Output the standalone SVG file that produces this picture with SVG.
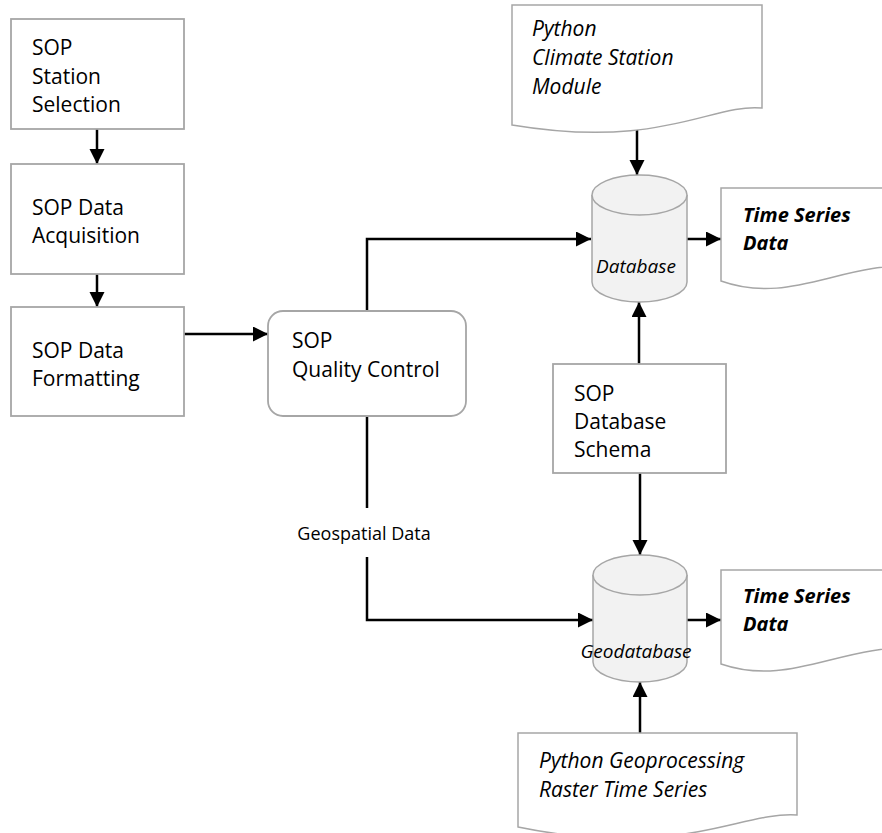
<svg xmlns="http://www.w3.org/2000/svg" width="882" height="833" viewBox="0 0 882 833">
<defs>
<style>
.box{fill:#fff;stroke:#a6a6a6;stroke-width:1.8}
.cyl{fill:#f2f2f2;stroke:#a6a6a6;stroke-width:1.5}
.doc{fill:#fff;stroke:#a6a6a6;stroke-width:1.5}
.t{font-family:"Open Sans",sans-serif;font-size:21px;fill:#000}
.i{font-style:italic}
.bi{font-style:italic;font-weight:bold;font-size:20px}
.lbl{font-family:"Open Sans",sans-serif;font-size:18px;fill:#000}
.c{fill:none;stroke:#000;stroke-width:2.5}
</style>
<marker id="ah" markerUnits="userSpaceOnUse" markerWidth="16" markerHeight="16" refX="15" refY="7.5" orient="auto">
<path d="M0,0 L15,7.5 L0,15 Z" fill="#000"/>
</marker>
</defs>
<rect width="882" height="833" fill="#fff"/>

<g id="connectors">
<line class="c" x1="97" y1="129" x2="97" y2="164" marker-end="url(#ah)"/>
<line class="c" x1="97" y1="274" x2="97" y2="307" marker-end="url(#ah)"/>
<line class="c" x1="184" y1="334" x2="268" y2="334" marker-end="url(#ah)"/>
<polyline class="c" points="367,311 367,239 591,239" marker-end="url(#ah)"/>
<line class="c" x1="367" y1="416" x2="367" y2="508"/>
<polyline class="c" points="367,557 367,620 593,620" marker-end="url(#ah)"/>
<line class="c" x1="637" y1="124" x2="637" y2="175" marker-end="url(#ah)"/>
<line class="c" x1="687" y1="239" x2="721" y2="239" marker-end="url(#ah)"/>
<line class="c" x1="687" y1="620" x2="721" y2="620" marker-end="url(#ah)"/>
<line class="c" x1="639" y1="364" x2="639" y2="302" marker-end="url(#ah)"/>
<line class="c" x1="640" y1="473" x2="640" y2="555" marker-end="url(#ah)"/>
<line class="c" x1="640" y1="733" x2="640" y2="682" marker-end="url(#ah)"/>
<text class="lbl" x="364" y="540" text-anchor="middle">Geospatial Data</text>
</g>

<g id="station-selection">
<rect class="box" x="11" y="19" width="173" height="110"/>
<text class="t" x="32" y="55">SOP</text>
<text class="t" x="32" y="84">Station</text>
<text class="t" x="32" y="112">Selection</text>
</g>

<g id="data-acquisition">
<rect class="box" x="11" y="164" width="173" height="110"/>
<text class="t" x="32" y="215">SOP Data</text>
<text class="t" x="32" y="243">Acquisition</text>
</g>

<g id="data-formatting">
<rect class="box" x="11" y="307" width="173" height="109"/>
<text class="t" x="32" y="358">SOP Data</text>
<text class="t" x="32" y="386">Formatting</text>
</g>

<g id="quality-control">
<rect class="box" x="268" y="311" width="198" height="105" rx="15" ry="15"/>
<text class="t" x="292" y="348">SOP</text>
<text class="t" x="292" y="377">Quality Control</text>
</g>

<g id="climate-module">
<path class="doc" d="M512,5 H762 V108 C712,103 662,150 512,125 Z"/>
<text class="t i" x="532" y="36">Python</text>
<text class="t i" x="532" y="65">Climate Station</text>
<text class="t i" x="532" y="94">Module</text>
</g>

<g id="database">
<path class="cyl" d="M592,195 A47.5,20 0 0 1 687,195 V282 A47.5,20 0 0 1 592,282 Z"/>
<path class="cyl" d="M592,195 A47.5,20 0 0 0 687,195" fill="none"/>
<text class="t i" x="636" y="273" text-anchor="middle" style="font-size:19px">Database</text>
</g>

<g id="ts-data-1">
<path class="doc" d="M721,188 H921 V266 C841,261 791,306 721,281 Z"/>
<text class="t bi" x="743" y="222">Time Series</text>
<text class="t bi" x="743" y="250">Data</text>
</g>

<g id="database-schema">
<rect class="box" x="553" y="364" width="173" height="109"/>
<text class="t" x="574" y="401">SOP</text>
<text class="t" x="574" y="429">Database</text>
<text class="t" x="574" y="457">Schema</text>
</g>

<g id="geodatabase">
<path class="cyl" d="M593,575 A47,20 0 0 1 687,575 V662 A47,20 0 0 1 593,662 Z"/>
<path class="cyl" d="M593,575 A47,20 0 0 0 687,575" fill="none"/>
<text class="t i" x="636" y="658" text-anchor="middle" style="font-size:19px">Geodatabase</text>
</g>

<g id="ts-data-2">
<path class="doc" d="M721,570 H921 V648 C841,643 791,688 721,664 Z"/>
<text class="t bi" x="743" y="603">Time Series</text>
<text class="t bi" x="743" y="631">Data</text>
</g>

<g id="geoprocessing">
<path class="doc" d="M518,733 H797 V815 C741,811 680,860 518,827 Z"/>
<text class="t i" x="539" y="768">Python Geoprocessing</text>
<text class="t i" x="539" y="797">Raster Time Series</text>
</g>
</svg>
